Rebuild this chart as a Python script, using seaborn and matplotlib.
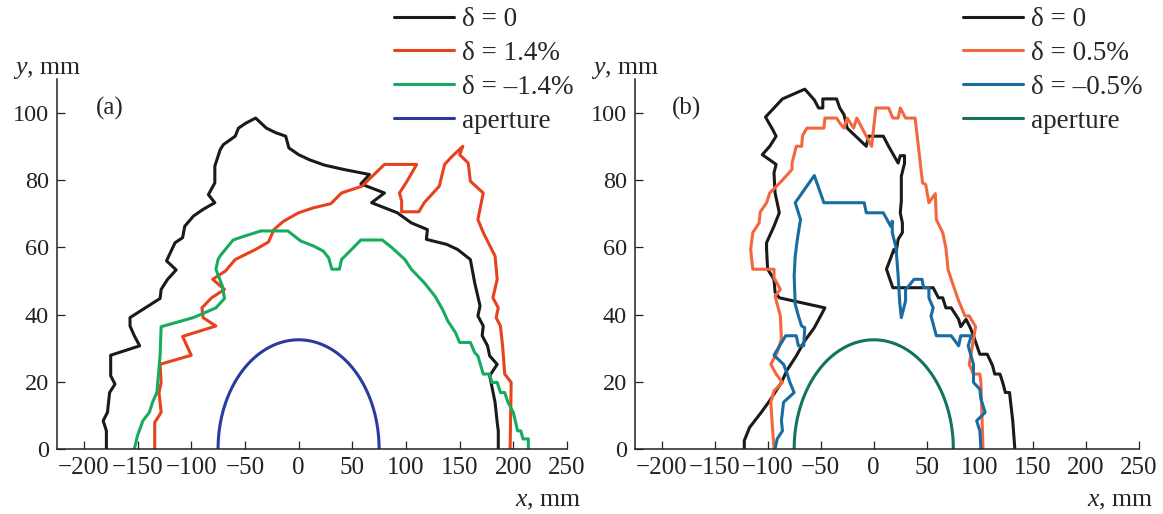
import numpy as np
import pandas as pd
import matplotlib
matplotlib.use("Agg")
import matplotlib.pyplot as plt
import seaborn as sns

# ---------------- data ----------------
# Panel (a)
a_d0_x = [-179, -179, -182, -178, -176, -171, -175, -175, -148, -153, -157, -157, -129, -128, -122, -114,
          -123, -118, -115, -108, -106, -98, -89, -78, -84, -78, -78, -73, -70, -59, -56, -49, -40, -30,
          -21, -12, -9, 0, 10, 24, 42, 66, 58, 80, 68, 92, 105, 120, 119, 138, 148, 160, 164, 169, 167,
          172, 171, 176, 178, 185, 178, 183, 185, 186, 186]
a_d0_y = [0, 5.4, 8.4, 10.9, 16.8, 19.3, 21.8, 27.9, 30.7, 33.7, 36.6, 39.1, 44.8, 47.5, 50.5, 53.3,
          56, 59.4, 61.4, 62.9, 66.3, 69.3, 71.3, 73.3, 75.7, 79.2, 84.2, 89.1, 90.6, 93.1, 95.5, 97, 98.5, 95.5,
          94.1, 93.1, 89.6, 87.6, 86.1, 84.5, 83.2, 81.7, 78.9, 76.2, 73.3, 70.3, 67.3, 65.3, 62.4, 60.9, 59.4, 56.4,
          49.5, 42.6, 39.6, 36.6, 33.7, 30.7, 27.7, 25.2, 21.8, 13.9, 7.9, 5.4, 0]

a_dp_x = [-134, -134, -128, -129, -130, -128, -129, -100, -108, -77, -89, -90, -81, -69, -80, -68, -59,
          -40, -28, -23, -14, 0, 14, 30, 40, 59, 80, 110, 101, 94, 96, 96, 112, 117, 131, 136, 143, 148,
          153, 150, 158, 160, 172, 167, 172, 183, 185, 181, 186, 184, 188, 190, 192, 198, 197]
a_dp_y = [0, 7.9, 10.9, 13.9, 16.8, 19.8, 25.2, 27.9, 33.5, 36.6, 39.1, 42, 45, 47.5, 50.5, 53, 56.4,
          59.4, 61.6, 65.3, 67.8, 70.3, 71.8, 73, 76.2, 78.2, 84.7, 84.7, 79.7, 76.2, 73.8, 70.6, 70.6, 73.3,
          78.2, 84.7, 87.1, 88.6, 90.1, 87.6, 85.1, 79.7, 76.2, 68.3, 64.4, 57.4, 50.5, 45, 42, 39.1, 36.6,
          30.7, 22.3, 19.8, 0]

a_dm_x = [-153, -150, -145, -139, -136, -132, -129, -128, -98, -77, -69, -71, -77, -75, -73, -61, -50,
          -35, -10, 2, 14, 23, 28, 31, 38, 40, 50, 58, 78, 87, 99, 105, 117, 127, 134, 139, 146, 150, 160,
          164, 167, 172, 178, 180, 185, 188, 192, 195, 200, 204, 207, 209, 214, 214]
a_dm_y = [0, 4, 8.4, 10.9, 13.9, 16.8, 27.7, 36.4, 39.1, 42, 44.8, 48.5, 53.5, 56.4, 57.5, 62.2, 63.4,
          64.9, 64.9, 61.9, 60.4, 58.9, 56.9, 53.5, 53.5, 56.4, 59.6, 62.2, 62.2, 59.9, 56.4, 53.5, 49.5, 45.5,
          41.6, 38.1, 34.7, 31.7, 31.7, 28.7, 27.7, 22.3, 22.3, 19.8, 19.8, 16.8, 16.8, 13.9, 10.9, 5.4, 5.4,
          3, 3, 0]

# Panel (b)
b_d0_x = [-122, -122, -117, -106, -98, -87, -82, -73, -65, -56, -46, -89, -93, -94, -100, -101, -101,
          -94, -89, -91, -93, -94, -92, -105, -98, -92, -96, -102, -94, -86, -65, -56, -52, -48, -48, -35,
          -32, -28, -25, -7, -5, 9, 14, 23, 25, 29, 29, 26, 26, 25, 27, 27, 23, 21, 19, 12, 18, 56, 61, 65,
          68, 73, 80, 82, 87, 91, 94, 100, 107, 112, 114, 119, 122, 124, 128, 129, 131, 133]
b_d0_y = [0, 2.5, 6.4, 10.9, 14.4, 19.8, 23.3, 27.7, 32.2, 36.1, 42, 45, 46.7, 50.5, 53.5, 59.4, 61.4,
          66.3, 70.3, 73.3, 76.2, 82.2, 84.7, 87.6, 90.1, 93.1, 95.5, 98.8, 101.5, 104.2, 107.1, 103.9, 101.5,
          101.5, 104.2, 104.2, 101.5, 99.5, 95.5, 90.1, 93.1, 93.1, 90.1, 85.1, 87.3, 87.3, 85, 81.2, 73.8,
          70.3, 67.3, 64.4, 62.4, 58.4, 59.4, 53.5, 48, 48, 45, 45, 42, 42, 38.6, 36.4, 38.6, 36.1, 33.7,
          28.2, 28.2, 24.8, 22.3, 22.3, 19.3, 16.8, 16.8, 13.9, 8.4, 0]

b_dp_x = [-94, -96, -97, -94, -86, -92, -97, -91, -87, -88, -93, -88, -94, -94, -114, -116, -114, -108,
          -107, -101, -98, -87, -77, -77, -75, -73, -68, -67, -63, -47, -46, -35, -32, -28, -25, -19, -16,
          -11, -2, 2, 14, 18, 23, 25, 30, 39, 46, 49, 52, 58, 59, 65, 68, 70, 73, 80, 86, 90, 96, 90, 94,
          100, 101, 103]
b_dp_y = [0, 8.9, 13.9, 17.3, 19.8, 22.3, 25.2, 28.7, 32.7, 39.6, 45.5, 47.5, 51, 53.5, 53.5, 59.4,
          64.4, 67.3, 70.5, 73.3, 76.2, 79.7, 83.2, 85.1, 87.6, 90.1, 90.1, 93.3, 95.5, 95.5, 98.5, 98.5, 97,
          95.5, 98.5, 95.5, 98.5, 95.5, 90.1, 101.5, 101.5, 98.5, 98.5, 101.5, 98.5, 98.5, 79.2, 78.7, 73.3,
          76, 68.3, 64.4, 59.9, 53.5, 50.5, 44.1, 39.6, 39.6, 36.4, 25.2, 22.3, 22.3, 19.8, 0]

b_dm_x = [-93, -91, -86, -87, -85, -75, -79, -82, -85, -94, -83, -73, -71, -66, -65, -68, -71, -74,
          -75, -74, -72, -69, -74, -56, -47, -9, -7, 9, 16, 17.5, 17.5, 21, 23, 24.5, 26, 30, 30, 33, 38,
          45.5, 47, 52, 52, 56, 54, 59, 73, 80, 82, 92, 89, 94, 94, 100, 101, 105, 97, 100, 101]
b_dm_y = [0, 3, 5.4, 8.4, 13.9, 16.8, 19.8, 22.8, 25.2, 27.9, 33.7, 33.7, 30.7, 30.7, 36.1, 36.6,
          39.6, 43.1, 51.5, 57.4, 62.4, 68.3, 73.3, 81.4, 73.3, 73.3, 70.3, 70.3, 66.3, 67.8, 64.4, 59.9,
          51.5, 43.6, 39.1, 44.1, 47.5, 48.5, 50.5, 50.5, 48, 48, 45, 42, 39.6, 33.7, 33.7, 30.7, 33.7,
          33.7, 30.7, 25.2, 19.8, 17.8, 14.9, 10.9, 8.4, 5.4, 0]

# aperture: half-width and height (mm)
aperture_half_width = 75.0
aperture_height = 32.5

x_ticks = [-200, -150, -100, -50, 0, 50, 100, 150, 200, 250]
y_ticks = [0, 20, 40, 60, 80, 100]

labels_a = ["δ = 0", "δ = 1.4%", "δ = –1.4%", "aperture"]
labels_b = ["δ = 0", "δ = 0.5%", "δ = –0.5%", "aperture"]
colors_a = ["#1a1a1a", "#e8411d", "#17ab5e", "#2b3a9e"]
colors_b = ["#1a1a1a", "#f4673e", "#176ca2", "#12735f"]

# ---------------- style ----------------
sns.set_style("ticks")
plt.rcParams["font.family"] = ["Liberation Serif", "DejaVu Serif"]
plt.rcParams["mathtext.fontset"] = "custom"
plt.rcParams["mathtext.rm"] = "Liberation Serif"
plt.rcParams["mathtext.it"] = "Liberation Serif:italic"
plt.rcParams["axes.unicode_minus"] = True

FS_TICK = 17.5
FS_LEG = 19.5
FS_LAB = 18.5
LW = 2.2

t = np.linspace(0, np.pi, 200)
ap_x = aperture_half_width * np.cos(t)
ap_y = aperture_height * np.sin(t)

fig = plt.figure(figsize=(11.63, 5.14), dpi=100)

def make_df(xs, ys):
    return pd.DataFrame({"x": xs, "y": ys, "i": np.arange(len(xs))})

panels = [
    ([(a_d0_x, a_d0_y), (a_dp_x, a_dp_y), (a_dm_x, a_dm_y), (ap_x, ap_y)], labels_a, colors_a,
     [57 / 1163, 0.1265, (567 - 57) / 1163, 0.719], "(a)", 394),
    ([(b_d0_x, b_d0_y), (b_dp_x, b_dp_y), (b_dm_x, b_dm_y), (ap_x, ap_y)], labels_b, colors_b,
     [635 / 1163, 0.1265, (1139 - 635) / 1163, 0.719], "(b)", 963),
]

for curves, labels, colors, rect, tag, leg_x in panels:
    ax = fig.add_axes(rect)
    for (xs, ys), lab, col in zip(curves, labels, colors):
        sns.lineplot(data=make_df(xs, ys), x="x", y="y", sort=False, estimator=None,
                     color=col, linewidth=LW, label=lab, ax=ax)
    ax.set_xlim(-225, 250)
    ax.set_ylim(0, 110)
    ax.set_xticks(x_ticks)
    ax.set_yticks(y_ticks)
    ax.set_xlabel("")
    ax.set_ylabel("")
    sns.despine(ax=ax)
    for s in ("left", "bottom"):
        ax.spines[s].set_linewidth(1.1)
        ax.spines[s].set_color("#222222")
    ax.tick_params(direction="in", length=6, width=0.9, pad=6, colors="#222222")
    ax.tick_params(axis="y", labelsize=FS_TICK)
    ax.tick_params(axis="x", labelsize=FS_TICK + 0.5)
    ax.text(-176, 101.5, tag, fontsize=FS_LAB - 0.5, ha="center", va="center")
    ax.annotate("$y$, mm", xy=(0, 1), xycoords="axes fraction", xytext=(-7.5, 7),
                textcoords="offset points", ha="center", va="center", fontsize=FS_LAB)
    ax.annotate("$x$, mm", xy=(1, 0), xycoords="axes fraction", xytext=(10, -37.5),
                textcoords="offset points", ha="right", va="center", fontsize=FS_LAB)
    ax.legend(loc="upper left", bbox_to_anchor=(leg_x / 1163, 1 - 7 / 514),
              bbox_transform=fig.transFigure, frameon=False, fontsize=FS_LEG,
              handlelength=2.2, handletextpad=0.3, labelspacing=0.33, borderpad=0,
              borderaxespad=0)

fig.savefig("out.png", dpi=100)
